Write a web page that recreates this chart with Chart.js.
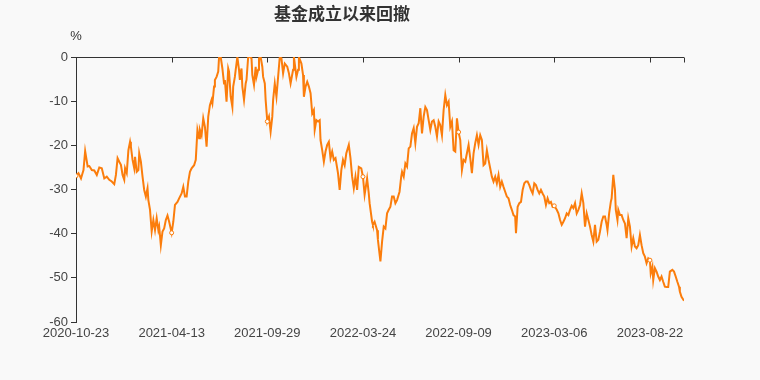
<!DOCTYPE html>
<html>
<head>
<meta charset="utf-8">
<script src="https://cdn.jsdelivr.net/npm/chart.js@4/dist/chart.umd.min.js"></script>
<style>
  html, body { margin: 0; padding: 0; background: #f9f9f9; }
  #wrap { width: 760px; height: 380px; }
</style>
</head>
<body>
<div id="wrap"><canvas id="c" width="760" height="380"></canvas></div>
<script>
// ---- data ----
const chartTitle = '基金成立以来回撤';
const unitLabel = '%';
const tickStep = 115; // trading days between date labels
const lastDay = 731;
const tickLabels = ['2020-10-23', '2021-04-13', '2021-09-29', '2022-03-24', '2022-09-09', '2023-03-06', '2023-08-22'];
const yTicks = [0, -10, -20, -30, -40, -50, -60];

// trading-day index since 2020-10-23
const days = [
  0,3,6,9,11,14,16,19,22,25,28,31,34,37,40,43,46,48,50,52,54,56,58,59,61,63,65,66,68,70,71,73,75,76,78,80,82,84,86,87,89,91,93,95,97,99,100,102,104,106,108,110,112,
  115,117,119,122,124,127,129,131,133,135,137,139,142,144,146,148,149,151,153,155,157,159,161,163,164,166,167,169,171,172,174,176,178,179,181,183,184,186,188,189,191,192,194,196,197,199,200,202,204,205,207,209,211,212,214,216,217,219,220,222,224,225,227,228,
  230,232,234,236,237,239,241,243,245,247,249,251,254,256,258,261,262,265,267,268,271,273,274,276,278,280,282,284,286,287,289,291,293,294,296,298,300,302,304,306,308,310,312,315,317,319,321,323,325,328,330,332,334,336,338,340,343,
  345,347,350,352,353,356,357,359,362,363,366,368,370,372,374,376,378,380,382,384,386,389,391,392,394,396,398,400,402,404,406,408,410,412,414,416,418,420,422,424,426,428,430,432,434,436,438,440,442,444,446,448,450,452,454,456,458,
  460,462,464,466,468,470,472,474,476,478,480,482,484,486,488,490,492,494,496,498,500,502,504,506,508,510,512,514,516,518,520,522,524,526,528,529,531,533,535,537,539,541,543,545,547,549,551,553,555,557,559,561,563,565,567,569,571,573,
  575,578,580,582,584,586,588,590,592,594,596,598,600,602,604,606,608,610,612,614,616,618,620,622,624,626,628,630,632,634,636,638,639,641,643,644,646,648,649,651,652,654,656,658,660,662,664,666,668,670,672,674,676,678,680,682,684,686,688,
  690,691,693,694,696,698,700,702,704,706,708,710,712,714,717,719,721,723,725,726,728,731
];
// drawdown since inception, %
const drawdown = [
  -26.9,-26.3,-27.5,-25.6,-21.3,-24.8,-24.7,-25.6,-25.7,-26.7,-25.0,-25.2,-27.5,-27.1,-27.8,-28.2,-28.8,-26.7,-22.9,-23.7,-24.4,-26.7,-27.8,-25.2,-26.3,-21.1,-19.2,-20.3,-23.3,-25.2,-22.6,-26.0,-25.6,-21.8,-23.7,-27.1,-30.1,-31.6,-29.7,-32.4,-34.6,-39.5,-36.9,-39.2,-36.5,-39.2,-38.4,-42.6,-39.5,-38.8,-36.9,-35.9,-37.3,
  -39.8,-37.3,-33.5,-32.8,-32.0,-30.9,-29.4,-31.6,-31.6,-28.2,-26.0,-25.2,-24.5,-23.3,-16.5,-18.4,-16.5,-17.7,-13.9,-15.8,-20.3,-13.5,-10.9,-9.7,-10.5,-6.7,-5.2,-4.5,-3.3,0,0,-2.6,-6.0,-5.2,-10.1,-2.6,-3.3,-9.0,-11.3,-6.7,-4.5,-2.9,0,-2.9,-5.2,-2.6,-6.7,-9.7,-6.0,-5.2,0,0,-0.3,-4.1,-6.3,-2.2,-4.5,-2.9,-0.3,0,-2.2,-4.5,-6.0,-9.7,
  -14.6,-13.5,-16.9,-13.5,-9.7,-6.0,-9.0,-4.5,0,-0.3,-3.7,-1.5,-2.2,-3.7,-6.0,-2.9,0,-4.5,-2.9,0,-1.5,-4.1,-9.0,-6.7,-5.6,-6.7,-8.2,-12.8,-12.0,-16.5,-14.3,-14.6,-14.3,-18.8,-21.1,-23.7,-21.4,-19.9,-19.2,-22.9,-21.4,-23.3,-22.9,-26.3,-30.1,-25.6,-23.3,-24.5,-21.8,-19.9,-22.9,-27.1,-29.7,-27.1,-30.1,-24.9,-25.2,
  -27.1,-31.2,-27.5,-30.9,-33.1,-37.3,-38.0,-37.3,-39.2,-41.4,-46.3,-41.8,-38.4,-38.8,-35.4,-34.6,-33.9,-31.6,-31.6,-33.1,-32.4,-30.5,-27.1,-26.0,-27.1,-24.1,-24.8,-20.7,-20.3,-17.3,-16.1,-19.5,-15.8,-15.0,-11.6,-17.3,-13.5,-11.3,-12.0,-14.3,-16.5,-14.6,-14.3,-15.8,-18.0,-14.6,-15.4,-17.7,-12.0,-8.6,-10.9,-10.1,-15.8,-14.6,-21.1,-21.4,-13.9,
  -17.0,-18.8,-25.6,-23.3,-23.7,-21.8,-19.9,-22.9,-26.3,-21.8,-19.5,-17.7,-19.9,-17.7,-18.8,-24.5,-24.1,-21.1,-23.3,-25.2,-27.1,-28.2,-27.1,-28.6,-26.7,-29.4,-28.2,-29.4,-30.5,-31.6,-32.0,-33.5,-34.6,-35.8,-36.1,-39.9,-33.9,-33.1,-32.8,-30.1,-28.6,-28.2,-28.2,-29.0,-30.1,-30.9,-28.6,-29.0,-30.1,-30.9,-30.1,-30.9,-31.6,-33.5,-32.0,-33.1,-32.8,-33.9,
  -33.7,-34.6,-35.4,-36.9,-38.0,-37.3,-36.5,-35.4,-35.8,-34.6,-33.7,-34.2,-33.1,-35.4,-34.6,-33.5,-30.9,-33.1,-38.4,-35.4,-36.9,-38.4,-40.3,-41.8,-38.0,-41.8,-41.4,-39.5,-37.3,-36.1,-36.1,-38.0,-39.2,-35.4,-32.8,-32.0,-26.7,-30.1,-34.6,-36.9,-34.6,-35.8,-35.8,-36.9,-37.7,-41.0,-36.5,-38.4,-42.9,-41.0,-42.9,-43.3,-42.6,-40.3,-42.6,-44.4,-45.2,-46.7,-45.6,
  -46.0,-49.0,-47.5,-50.5,-47.8,-48.6,-49.7,-50.5,-49.7,-50.9,-52.0,-52.1,-52.1,-48.6,-48.2,-48.6,-49.7,-50.9,-52.0,-53.1,-54.3,-55.2
];

// ---- chart ----
const lineColor = '#fb7d0c';
const axisColor = '#333333';
const textColor = '#444444';

function labelFor(v) {
  const k = Math.round(v / tickStep);
  if (Math.abs(v - k * tickStep) > 0.5) return '';
  return tickLabels[k] !== undefined ? tickLabels[k] : '';
}

const bgPlugin = {
  id: 'bg',
  beforeDraw(chart) {
    const ctx = chart.ctx;
    ctx.save();
    ctx.fillStyle = '#f9f9f9';
    ctx.fillRect(0, 0, chart.width, chart.height);
    ctx.restore();
  }
};

const topAxisPlugin = {
  id: 'topAxis',
  beforeDatasetsDraw(chart) {
    const { ctx, chartArea, scales } = chart;
    const x = scales.x, y = scales.y;
    const y0 = Math.round(y.getPixelForValue(0)) + 0.5;
    ctx.save();
    ctx.strokeStyle = axisColor;
    ctx.lineWidth = 1;
    ctx.beginPath();
    ctx.moveTo(chartArea.left, y0);
    ctx.lineTo(chartArea.right, y0);
    x.ticks.forEach(t => {
      const px = Math.round(x.getPixelForValue(t.value)) + 0.5;
      ctx.moveTo(px, y0);
      ctx.lineTo(px, y0 + 5);
    });
    ctx.stroke();
    ctx.fillStyle = axisColor;
    ctx.font = '13px "Liberation Sans", Arial, sans-serif';
    ctx.textAlign = 'center';
    ctx.textBaseline = 'middle';
    ctx.fillText(unitLabel, chartArea.left, chartArea.top - 21);
    ctx.restore();
  }
};

new Chart(document.getElementById('c'), {
  type: 'line',
  data: {
    datasets: [{
      data: days.map((d, i) => ({ x: d, y: drawdown[i] })),
      borderColor: lineColor,
      backgroundColor: '#ffffff',
      borderWidth: 2,
      tension: 0,
      pointRadius: ctx => (days[ctx.dataIndex] % tickStep === 0 ? 2 : 0),
      pointBorderWidth: 1,
      pointBorderColor: lineColor,
      pointBackgroundColor: '#ffffff',
      pointHoverRadius: 0,
      fill: false
    }]
  },
  options: {
    responsive: false,
    animation: false,
    events: [],
    layout: { padding: { left: 0, right: 76, top: 0, bottom: 0 } },
    plugins: {
      legend: { display: false },
      tooltip: { enabled: false },
      title: {
        display: true,
        text: chartTitle,
        color: '#333333',
        font: { family: '"Noto Sans CJK SC", sans-serif', size: 17, weight: 'bold', lineHeight: 1.2 },
        padding: { top: 3, bottom: 33.6 }
      }
    },
    scales: {
      x: {
        type: 'linear',
        min: 0,
        max: lastDay,
        grid: { display: false, drawTicks: false },
        border: { display: false },
        afterBuildTicks: s => {
          s.ticks = tickLabels.map((_, i) => ({ value: i * tickStep })).concat([{ value: lastDay }]);
        },
        ticks: {
          autoSkip: false,
          maxRotation: 0,
          padding: 4,
          color: textColor,
          font: { family: '"Liberation Sans", Arial, sans-serif', size: 13 },
          callback: v => labelFor(v)
        },
        afterFit: s => { s.height = 58; }
      },
      y: {
        min: yTicks[yTicks.length - 1],
        max: yTicks[0],
        grid: { display: true, drawOnChartArea: false, drawTicks: true, tickLength: 5, color: axisColor },
        border: { display: true, color: axisColor, width: 1 },
        ticks: {
          stepSize: 10,
          padding: 3,
          color: textColor,
          font: { family: '"Liberation Sans", Arial, sans-serif', size: 13 }
        },
        afterFit: s => { s.width = 76; }
      }
    }
  },
  plugins: [bgPlugin, topAxisPlugin]
});
</script>
</body>
</html>
